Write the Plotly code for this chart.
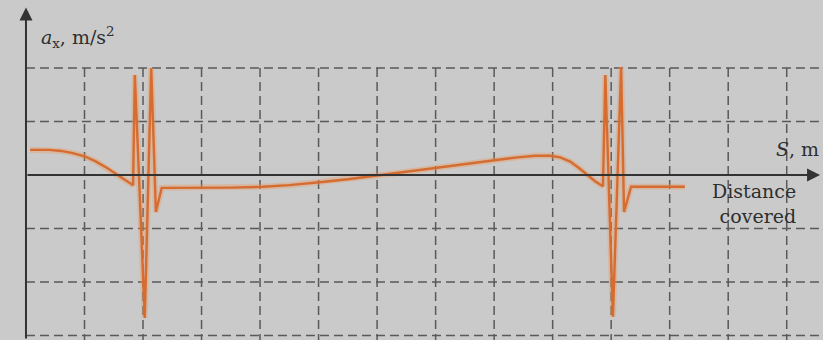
import plotly.graph_objects as go

# Distance covered S (grid-cell units) and acceleration a_x (grid-cell units)
s_values = [0.07, 0.4, 0.6, 0.8, 1.0, 1.2, 1.4, 1.56, 1.7, 1.83,
            1.86, 2.03, 2.14, 2.22, 2.32,
            3.0, 3.5, 4.05, 4.5, 5.06, 5.5, 6.07, 6.5, 7.08, 7.6, 8.09, 8.4, 8.7,
            8.96, 9.13, 9.3, 9.45, 9.59, 9.73, 9.86,
            9.90, 10.03, 10.17, 10.22, 10.34, 11.26]
a_values = [0.47, 0.47, 0.45, 0.41, 0.35, 0.25, 0.12, 0.0, -0.1, -0.19,
            1.87, -2.67, 2.0, -0.69, -0.24,
            -0.24, -0.235, -0.22, -0.19, -0.13, -0.08, 0.0, 0.06, 0.15, 0.22, 0.28, 0.33, 0.36,
            0.36, 0.33, 0.25, 0.13, 0.0, -0.12, -0.21,
            1.87, -2.65, 2.02, -0.69, -0.22, -0.22]

grid_x = [1, 2, 3, 4, 5, 6, 7, 8, 9, 10, 11, 12, 13]
grid_y = [2, 1, -1, -2, -3]

y_label = "<i>a</i><sub>x</sub>, m/s<sup>2</sup>"
x_label = "<i>S</i>, m"
note_label = "Distance<br>covered"

X0, X1 = -0.444, 13.62
Y0, Y1 = -3.084, 3.271
FONT = "DejaVu Serif"

fig = go.Figure()

# glow
fig.add_trace(go.Scatter(x=s_values, y=a_values, mode="lines",
                         line=dict(color="rgba(235,150,90,0.35)", width=6),
                         hoverinfo="skip", showlegend=False))
fig.add_trace(go.Scatter(x=s_values, y=a_values, mode="lines",
                         line=dict(color="rgb(214,108,48)", width=2.4),
                         showlegend=False))

shapes = []
dash = "9px,5px"
for gy in grid_y:
    shapes.append(dict(type="line", xref="x", yref="y", x0=0, x1=X1, y0=gy, y1=gy,
                       line=dict(color="#5a5a5a", width=1.5, dash=dash), layer="below"))
for gx in grid_x:
    shapes.append(dict(type="line", xref="x", yref="y", x0=gx, x1=gx, y0=2, y1=Y0,
                       line=dict(color="#5a5a5a", width=1.5, dash=dash), layer="below"))

annotations = [
    # y axis with arrow
    dict(x=0, y=3.13, ax=0, ay=Y0, xref="x", yref="y", axref="x", ayref="y",
         showarrow=True, arrowhead=2, arrowsize=1.3, arrowwidth=2, arrowcolor="#333333", text=""),
    # x axis with arrow
    dict(x=13.57, y=0, ax=0, ay=0, xref="x", yref="y", axref="x", ayref="y",
         showarrow=True, arrowhead=2, arrowsize=1.3, arrowwidth=2, arrowcolor="#333333", text=""),
    dict(x=0.22, y=2.57, xref="x", yref="y", text=y_label, showarrow=False,
         xanchor="left", yanchor="middle",
         font=dict(family=FONT, size=19, color="#2e2e2e")),
    dict(x=12.78, y=0.48, xref="x", yref="y", text=x_label, showarrow=False,
         xanchor="left", yanchor="middle",
         font=dict(family=FONT, size=19, color="#2e2e2e")),
    dict(x=13.2, y=-0.53, xref="x", yref="y", text=note_label, showarrow=False,
         xanchor="right", yanchor="middle", align="right",
         font=dict(family=FONT, size=19, color="#2e2e2e")),
]

fig.update_layout(
    width=823, height=340,
    margin=dict(l=0, r=0, t=0, b=0),
    paper_bgcolor="#cacaca", plot_bgcolor="#cacaca",
    xaxis=dict(range=[X0, X1], visible=False, fixedrange=True),
    yaxis=dict(range=[Y0, Y1], visible=False, fixedrange=True),
    shapes=shapes, annotations=annotations,
)

fig.write_html("out.html")
